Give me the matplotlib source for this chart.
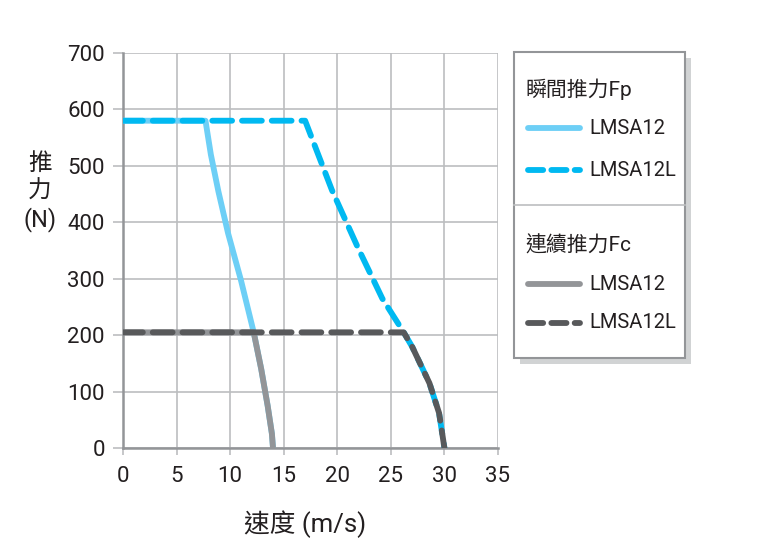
import matplotlib
matplotlib.use("Agg")
import matplotlib.pyplot as plt
from matplotlib.patches import Rectangle

plt.rcParams["font.family"] = ["Roboto", "Noto Sans CJK TC", "DejaVu Sans"]

# thrust-speed curves (speed m/s, thrust N)
fp_12_speed = [0, 7.7, 8.2, 8.9, 9.8, 11.0, 12.2, 12.9, 13.5, 13.9, 14.0]
fp_12_force = [580, 580, 520, 455, 381, 298, 205, 140, 75, 25, 0]
fp_12l_speed = [0, 17.0, 19.5, 21.9, 24.2, 26.2, 27.0, 28.6, 29.5, 30.0]
fp_12l_force = [580, 580, 457, 356, 265, 205, 179, 115, 62, 0]
fc_12_speed = [0, 12.2, 12.9, 13.5, 13.9, 14.0]
fc_12_force = [205, 205, 140, 75, 25, 0]
fc_12l_speed = [0, 26.2, 27.0, 28.6, 29.5, 30.0]
fc_12l_force = [205, 205, 179, 115, 62, 0]

x_ticks = [0, 5, 10, 15, 20, 25, 30, 35]
y_ticks = [0, 100, 200, 300, 400, 500, 600, 700]

LIGHT_BLUE = "#6dcff6"
CYAN = "#00b9f1"
GRAY = "#939598"
DARK = "#58595b"
GRID = "#bcbec0"
TEXT = "#231f20"

W, H = 762, 549
fig = plt.figure(figsize=(W / 100, H / 100), dpi=100)
ax = fig.add_axes([123 / W, 1 - 448 / H, (498 - 123) / W, (448 - 53) / H])

lw = 4.2
dash = (3.4, 1.7)
ax.plot(fp_12_speed, fp_12_force, color=LIGHT_BLUE, lw=lw,
        solid_capstyle="round", solid_joinstyle="round", zorder=3)
ax.plot(fp_12l_speed, fp_12l_force, color=CYAN, lw=lw, dashes=dash,
        dash_capstyle="round", dash_joinstyle="round", zorder=4)
ax.plot(fc_12_speed, fc_12_force, color=GRAY, lw=lw,
        solid_capstyle="round", solid_joinstyle="round", zorder=5)
ax.plot(fc_12l_speed, fc_12l_force, color=DARK, lw=lw, dashes=dash,
        dash_capstyle="round", dash_joinstyle="round", zorder=6)

ax.set_xlim(0, 35)
ax.set_ylim(0, 700)
ax.set_xticks(x_ticks)
ax.set_yticks(y_ticks)
ax.grid(True, color=GRID, lw=1.2)
ax.set_axisbelow(True)
for side in ("top", "right"):
    ax.spines[side].set_visible(False)
for side in ("left", "bottom"):
    ax.spines[side].set_color(GRAY)
    ax.spines[side].set_linewidth(1.8)
ax.tick_params(axis="x", length=5, width=1.2, color=GRID, pad=8,
               labelsize=16, labelcolor=TEXT)
ax.tick_params(axis="y", length=7, width=1.2, color=GRID, pad=6,
               labelsize=16, labelcolor=TEXT)

fig.text(40 / W, 1 - 192 / H, "推\n力\n(N)", ha="center", va="center",
         fontsize=17, color=TEXT, linespacing=1.25)
fig.text(305 / W, 1 - 524 / H, "速度 (m/s)", ha="center", va="center",
         fontsize=18.5, color=TEXT)

# legend panel, drawn in pixel coordinates
lg = fig.add_axes([0, 0, 1, 1], facecolor="none")
lg.set_xlim(0, W)
lg.set_ylim(H, 0)
lg.axis("off")
lg.add_patch(Rectangle((520, 58), 171, 306, facecolor="#d1d3d4",
                       edgecolor="none", zorder=1))
lg.add_patch(Rectangle((514, 52), 171, 306, facecolor="white",
                       edgecolor=GRAY, lw=1.5, zorder=2))
lg.plot([514, 685], [205, 205], color=GRID, lw=1.2, zorder=3)

entries = [
    (128, LIGHT_BLUE, None, "LMSA12"),
    (170, CYAN, dash, "LMSA12L"),
    (284, GRAY, None, "LMSA12"),
    (323, DARK, dash, "LMSA12L"),
]
for y, color, ds, label in entries:
    if ds is None:
        lg.plot([528, 580], [y, y], color=color, lw=lw,
                solid_capstyle="round", zorder=3)
    else:
        lg.plot([528, 580], [y, y], color=color, lw=lw, dashes=(2.6, 1.4),
                dash_capstyle="round", zorder=3)
    lg.text(589, y, label, ha="left", va="center", fontsize=14.5,
            color=TEXT, zorder=3)
lg.text(525, 89, "瞬間推力Fp", ha="left", va="center", fontsize=15,
        color=TEXT, zorder=3)
lg.text(525, 245, "連續推力Fc", ha="left", va="center", fontsize=15,
        color=TEXT, zorder=3)

fig.savefig("out.png", dpi=100)
